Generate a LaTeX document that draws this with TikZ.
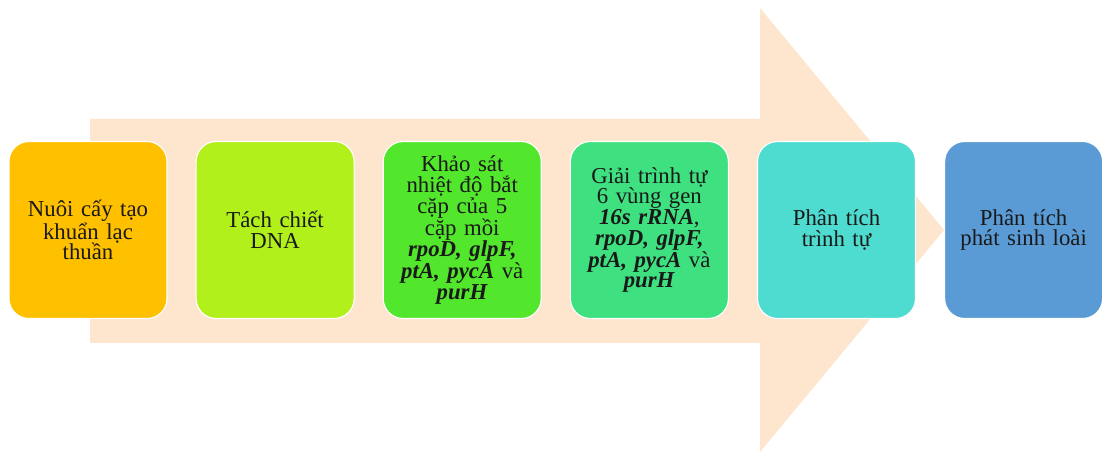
\documentclass[tikz,border=0pt]{standalone}
\usepackage{fontspec}
\setmainfont{Liberation Serif}
\usetikzlibrary{positioning}
\definecolor{nenmuiten}{RGB}{253,229,206}
\definecolor{maucam}{RGB}{255,192,0}
\definecolor{mauchanh}{RGB}{178,240,28}
\definecolor{mauxanhla}{RGB}{82,230,44}
\definecolor{mauxanhngoc}{RGB}{62,224,128}
\definecolor{mauxanhduong}{RGB}{78,219,208}
\definecolor{mauxanhbien}{RGB}{91,155,213}
\newcommand{\gen}[1]{\textbf{\textit{#1}}}
\begin{document}
\begin{tikzpicture}[
    buoc/.style={rectangle, rounded corners=0.5cm, draw=white, line width=0.8pt,
      minimum width=3.95cm, minimum height=4.425cm, text width=3.4cm, align=center,
      font=\fontsize{16.2}{14.7}\selectfont, text=black!90},
    node distance=0.7cm
  ]

  % khung hinh
  \useasboundingbox (0,0) rectangle (27.575,-11.3);

  % mui ten nen
  \fill[nenmuiten] (2.25,-2.975) -- (19.0,-2.975) -- (19.0,-0.2) -- (23.6,-5.75)
    -- (19.0,-11.3) -- (19.0,-8.575) -- (2.25,-8.575) -- cycle;

  % cac buoc
  \node[buoc, fill=maucam] (nuoicay) at (2.2,-5.75) {Nuôi cấy tạo\\khuẩn lạc\\thuần};
  \node[buoc, fill=mauchanh, right=of nuoicay] (tachchiet) {Tách chiết\\DNA};
  \node[buoc, fill=mauxanhla, right=of tachchiet] (khaosat) {Khảo sát\\nhiệt độ bắt\\cặp của 5\\cặp mồi\\\gen{rpoD, glpF,}\\\gen{ptA, pycA} và\\\gen{purH}};
  \node[buoc, fill=mauxanhngoc, right=of khaosat] (giaitrinh) {Giải trình tự\\6 vùng gen\\\gen{16s rRNA},\\\gen{rpoD, glpF,}\\\gen{ptA, pycA} và\\\gen{purH}};
  \node[buoc, fill=mauxanhduong, right=of giaitrinh] (phantich) {Phân tích\\trình tự};
  \node[buoc, fill=mauxanhbien, right=of phantich] (phatsinh) {Phân tích\\phát sinh loài};

\end{tikzpicture}
\end{document}
